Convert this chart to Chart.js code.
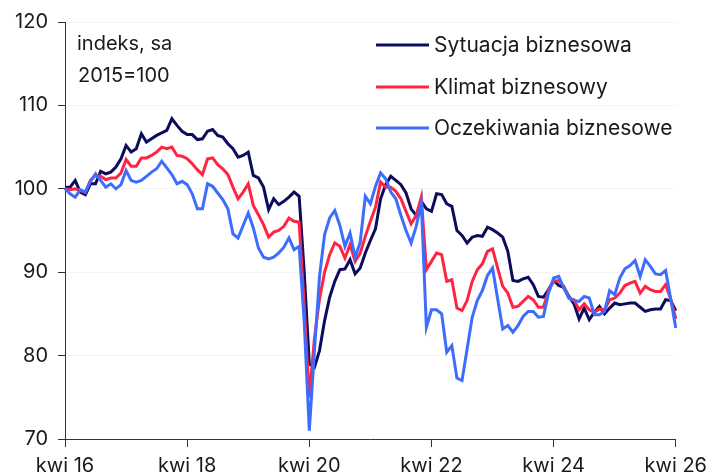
<!DOCTYPE html>
<html lang="pl">
<head>
<meta charset="utf-8">
<script src="https://cdn.jsdelivr.net/npm/chart.js@4/dist/chart.umd.min.js"></script>
<style>
    html, body { margin: 0; padding: 0; background: #ffffff; }
    #chart { display: block; }
</style>
</head>
<body>
<canvas id="chart" width="709" height="474"></canvas>
<script>
const monthNames = ['sty', 'lut', 'mar', 'kwi', 'maj', 'cze', 'lip', 'sie', 'wrz', 'paź', 'lis', 'gru'];

// kwi 16 .. kwi 26, monthly
const categories = [];
for (let year = 2016, month = 3; year < 2026 || (year === 2026 && month <= 3); month++) {
    if (month === 12) { month = 0; year++; }
    if (year === 2026 && month > 3) break;
    categories.push(monthNames[month] + ' ' + String(year).slice(2));
}

const tickEvery = 24;
const yTicks = [70, 80, 90, 100, 110, 120];

const sytuacja = [
    100.2, 100.2, 101.0, 99.6, 99.3, 100.6, 100.6, 102.1, 101.8, 102.0, 102.6, 103.6,
    105.2, 104.4, 104.8, 106.6, 105.6, 106.0, 106.4, 106.7, 107.0, 108.4, 107.6, 106.9,
    106.5, 106.5, 105.9, 106.0, 106.9, 107.1, 106.4, 106.2, 105.4, 104.8, 103.8, 104.0,
    104.4, 101.6, 101.3, 100.2, 97.5, 98.8, 98.1, 98.5, 99.0, 99.6, 99.1, 90.0,
    79.0, 78.6, 80.6, 84.2, 87.0, 88.9, 90.3, 90.4, 91.5, 89.8, 90.5, 92.3,
    93.8, 95.2, 98.8, 100.5, 101.5, 101.0, 100.5, 99.5, 97.6, 96.8, 98.5, 97.6,
    97.3, 99.4, 99.3, 98.2, 97.9, 95.0, 94.4, 93.5, 94.2, 94.4, 94.3, 95.4,
    95.1, 94.7, 94.2, 92.5, 89.0, 88.9, 89.2, 89.4, 88.5, 87.1, 87.0, 87.9,
    89.0, 88.4, 88.2, 87.1, 86.2, 84.4, 85.7, 84.3, 85.2, 85.9, 85.0, 85.7,
    86.3, 86.1, 86.2, 86.3, 86.3, 85.8, 85.3, 85.5, 85.6, 85.6, 86.7, 86.6,
    85.4,
];

const klimat = [
    100.0, 99.9, 100.0, 99.8, 99.6, 101.0, 101.6, 101.5, 101.1, 101.3, 101.3, 101.9,
    103.5, 102.7, 102.7, 103.7, 103.7, 104.0, 104.4, 105.0, 104.8, 105.0, 104.0, 103.9,
    103.6, 103.0, 102.3, 101.7, 103.6, 103.7, 102.9, 102.4, 101.7, 100.2, 98.8, 99.6,
    100.6, 98.0, 96.9, 95.7, 94.2, 94.8, 95.0, 95.5, 96.5, 96.1, 96.0, 86.0,
    75.0, 82.0, 86.8, 90.0, 92.1, 93.5, 93.1, 91.7, 93.3, 91.3, 92.3, 94.3,
    96.1, 97.8, 100.8, 100.2, 100.2, 99.7, 98.8, 97.3, 95.8, 96.8, 99.0, 90.3,
    91.3, 92.3, 92.1, 88.9, 89.1, 85.7, 85.4, 86.6, 88.9, 90.3, 91.0, 92.5,
    92.8, 90.5, 88.3, 87.5, 85.8, 85.9, 86.5, 87.1, 86.7, 85.8, 85.8, 87.8,
    88.9, 89.0, 88.3, 86.9, 86.7, 85.5, 86.2, 85.5, 85.2, 85.6, 85.5, 86.7,
    86.9, 87.5, 88.4, 88.7, 88.9, 87.5, 88.3, 87.9, 87.7, 87.7, 88.5, 86.8,
    84.4,
];

const oczekiwania = [
    100.0, 99.4, 99.0, 99.9, 99.6, 100.9, 101.8, 101.0, 100.2, 100.6, 100.0, 100.5,
    102.2, 101.0, 100.8, 101.0, 101.5, 102.0, 102.4, 103.3, 102.5, 101.7, 100.6, 100.9,
    100.5, 99.4, 97.6, 97.6, 100.6, 100.3, 99.5, 98.7, 97.6, 94.6, 94.1, 95.6,
    97.1, 95.3, 92.9, 91.8, 91.6, 91.8, 92.3, 93.0, 94.1, 92.7, 93.1, 84.0,
    71.0, 80.5, 89.5, 94.5, 96.5, 97.4, 95.6, 93.1, 94.7, 91.8, 93.6, 99.1,
    98.2, 100.3, 101.9, 101.2, 99.6, 98.8, 96.8, 95.0, 93.5, 95.5, 98.3, 83.4,
    85.5, 85.5, 85.0, 80.4, 81.2, 77.3, 77.0, 80.8, 84.6, 86.6, 87.8, 89.6,
    90.5, 86.8, 83.2, 83.6, 82.8, 83.6, 84.7, 85.3, 85.3, 84.6, 84.7, 87.5,
    89.3, 89.5, 88.1, 86.9, 86.6, 86.5, 87.1, 86.9, 84.9, 84.9, 85.3, 87.8,
    87.3, 89.3, 90.4, 90.8, 91.4, 89.5, 91.5, 90.7, 89.8, 89.7, 90.2, 86.8,
    83.3,
];

const seriesNames = ['Sytuacja biznesowa', 'Klimat biznesowy', 'Oczekiwania biznesowe'];
const notes = ['indeks, sa', '2015=100'];

const colors = {
    sytuacja: '#0c0c5e',
    klimat: '#ff2442',
    oczekiwania: '#3d6dff',
    text: '#1a1a1a',
    axis: '#333333',
    grid: '#f4f4f4',
};

const fontFamily = 'Inter, "Noto Sans", sans-serif';

const overlayPlugin = {
    id: 'overlay',
    afterDraw(chart) {
        const { ctx } = chart;
        ctx.save();
        ctx.fillStyle = colors.text;
        ctx.textBaseline = 'middle';
        ctx.textAlign = 'left';

        ctx.font = `20px ${fontFamily}`;
        ctx.fillText(notes[0], 77, 44);
        ctx.fillText(notes[1], 78, 76);

        ctx.font = `21px ${fontFamily}`;
        ctx.lineWidth = 3;
        const rows = [45, 87, 128];
        const legendColors = [colors.sytuacja, colors.klimat, colors.oczekiwania];
        seriesNames.forEach((name, i) => {
            ctx.strokeStyle = legendColors[i];
            ctx.beginPath();
            ctx.moveTo(376, rows[i]);
            ctx.lineTo(429, rows[i]);
            ctx.stroke();
            ctx.fillText(name, 434, rows[i] + 1);
        });
        ctx.restore();
    },
};

function lineDataset(label, data, color, order) {
    return {
        label,
        data,
        borderColor: color,
        backgroundColor: color,
        borderWidth: 3,
        pointRadius: 0,
        tension: 0,
        order,
    };
}

new Chart(document.getElementById('chart'), {
    type: 'line',
    data: {
        labels: categories,
        datasets: [
            lineDataset(seriesNames[0], sytuacja, colors.sytuacja, 3),
            lineDataset(seriesNames[1], klimat, colors.klimat, 2),
            lineDataset(seriesNames[2], oczekiwania, colors.oczekiwania, 1),
        ],
    },
    options: {
        responsive: false,
        animation: false,
        devicePixelRatio: 1,
        layout: {
            padding: { top: 19, right: 33, left: 0, bottom: 0 },
        },
        scales: {
            x: {
                afterFit(scale) { scale.height = 35; },
                grid: {
                    drawOnChartArea: false,
                    tickLength: 8,
                    color: (ctx) => (ctx.index % tickEvery === 0 ? colors.axis : 'rgba(0,0,0,0)'),
                },
                border: { color: colors.axis, width: 1 },
                ticks: {
                    autoSkip: false,
                    maxRotation: 0,
                    padding: 2,
                    color: colors.text,
                    font: { family: fontFamily, size: 20, lineHeight: 1.7 },
                    callback(value, index) {
                        return index % tickEvery === 0 ? categories[index] : '';
                    },
                },
            },
            y: {
                min: yTicks[0],
                max: yTicks[yTicks.length - 1],
                afterFit(scale) { scale.width = 65; },
                afterBuildTicks(scale) {
                    scale.ticks = yTicks.map((value) => ({ value }));
                },
                grid: {
                    color: colors.grid,
                    tickColor: colors.axis,
                    tickLength: 7,
                },
                border: { color: colors.axis, width: 1 },
                ticks: {
                    padding: 10,
                    color: colors.text,
                    font: { family: fontFamily, size: 20 },
                },
            },
        },
        plugins: {
            legend: { display: false },
            tooltip: { enabled: false },
        },
    },
    plugins: [overlayPlugin],
});
</script>
</body>
</html>
